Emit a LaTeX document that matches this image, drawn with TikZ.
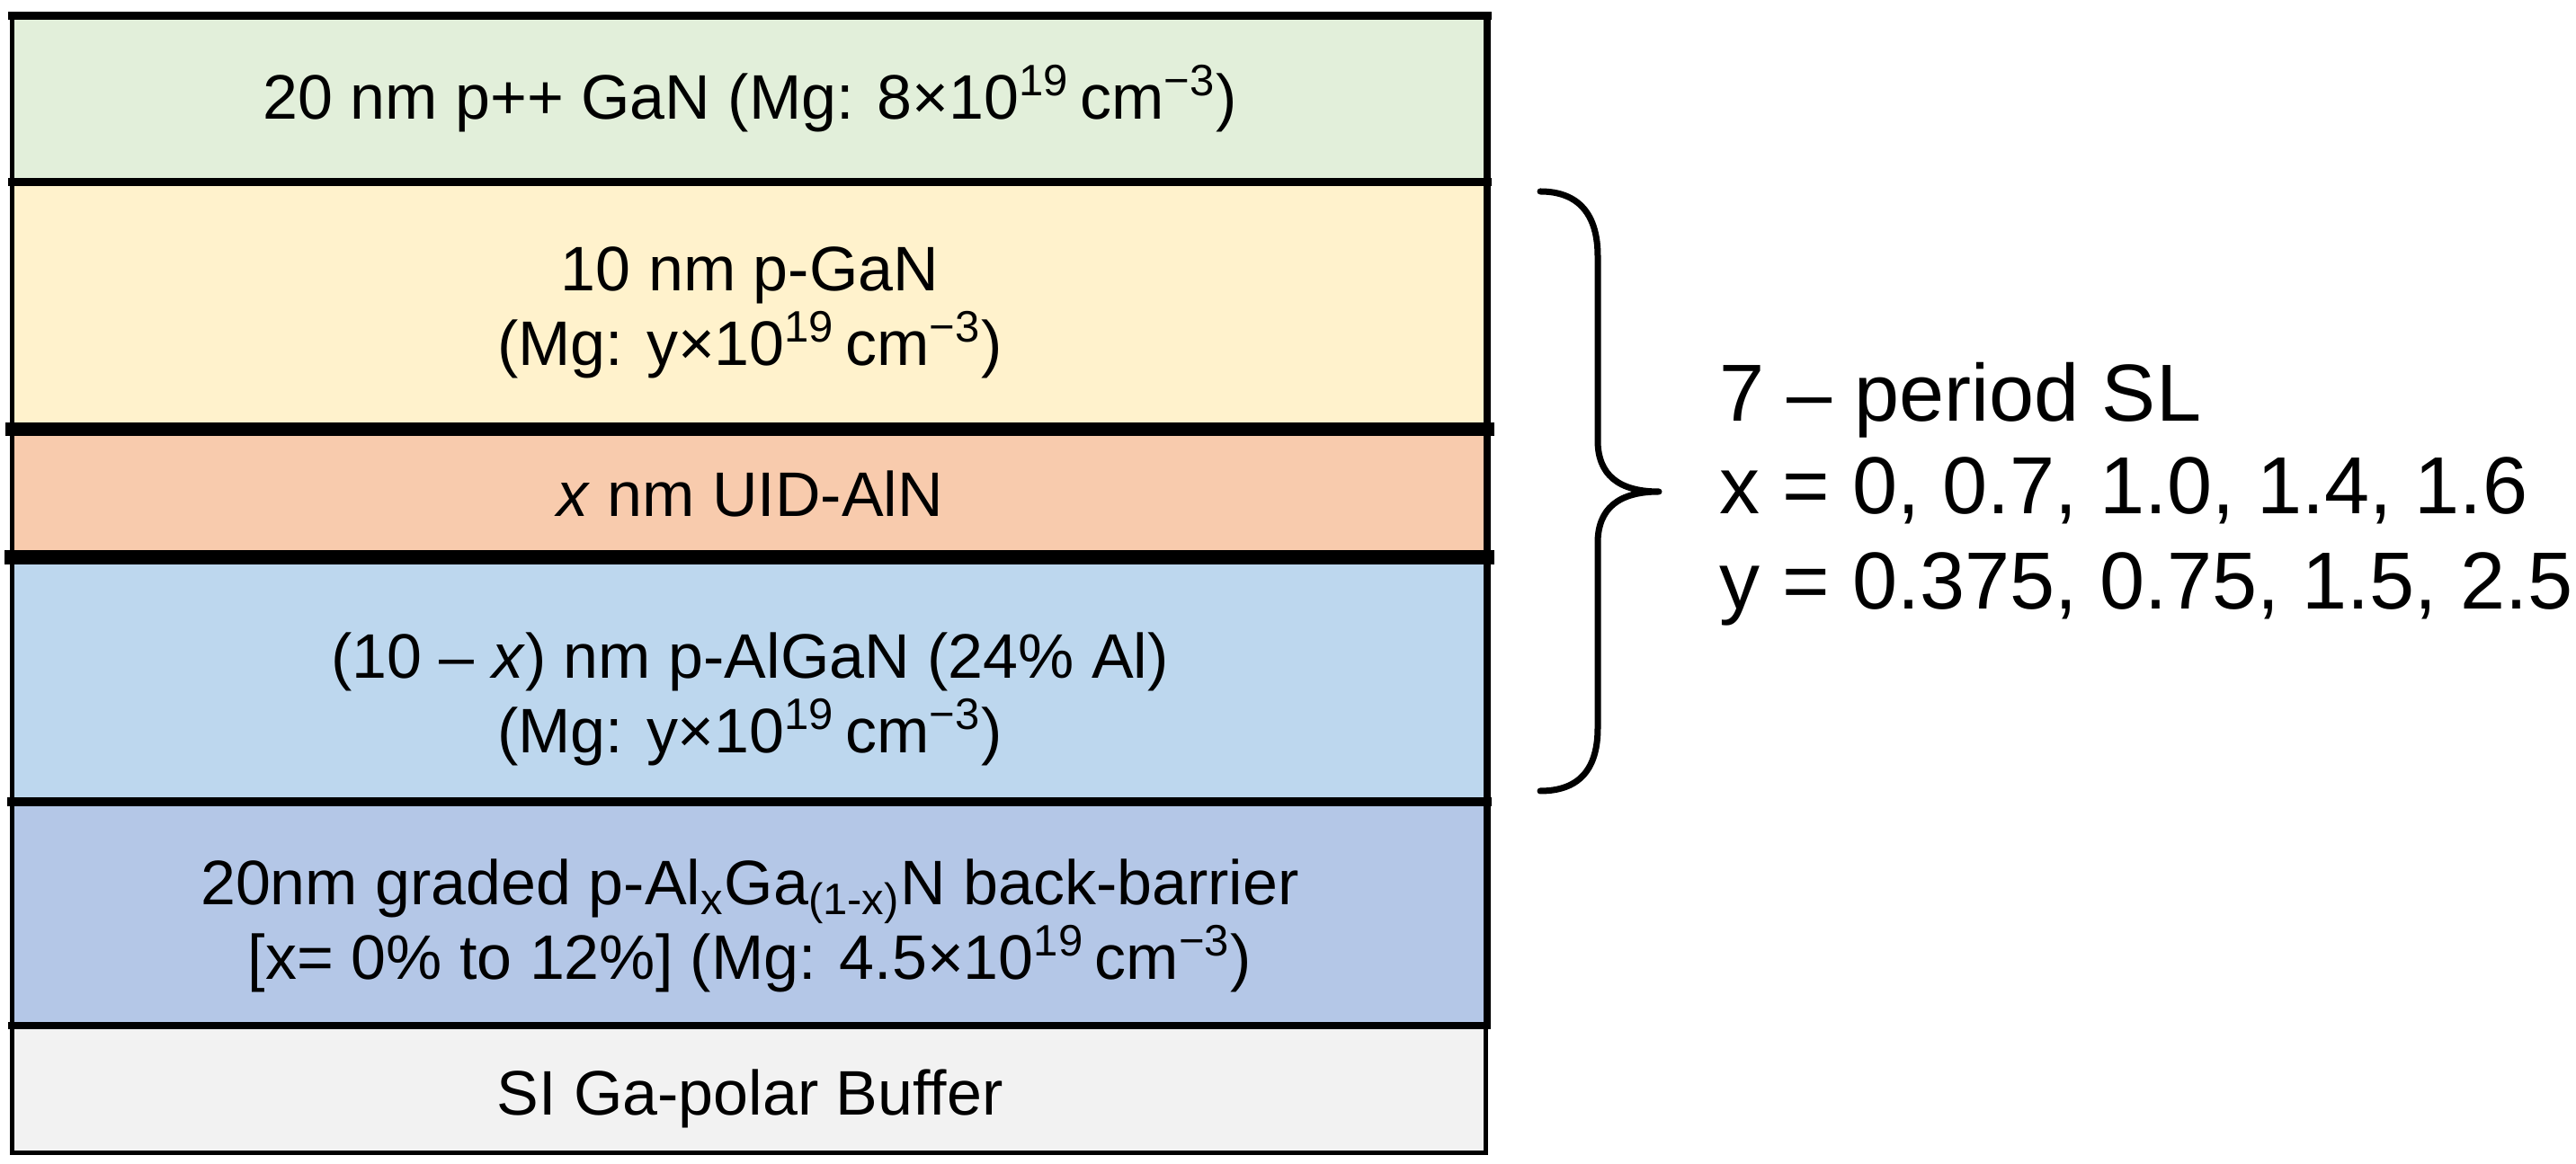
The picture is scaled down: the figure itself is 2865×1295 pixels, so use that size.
\documentclass[tikz,border=0pt]{standalone}
\usepackage{fontspec}
\setmainfont{Liberation Sans}
\definecolor{cGreen}{HTML}{E2EFDA}
\definecolor{cYellow}{HTML}{FFF2CC}
\definecolor{cOrange}{HTML}{F8CBAD}
\definecolor{cBlue}{HTML}{BDD7EE}
\definecolor{cDarkBlue}{HTML}{B4C7E7}
\definecolor{cGray}{HTML}{F2F2F2}
\tikzset{
  layertext/.style={align=center, inner sep=0pt, font=\fontsize{19.9}{23.6}\selectfont},
  sidetext/.style={anchor=base west, inner sep=0pt, font=\fontsize{25.6}{29}\selectfont},
  rule/.style={draw=black, line cap=rect},
  bracestyle/.style={draw=black, line width=0.07cm, line cap=round, line join=round}
}
\newcommand{\emN}{\textsuperscript{19}\,cm\textsuperscript{\textminus3}}
\begin{document}
\begin{tikzpicture}[x=0.01cm,y=-0.01cm]
\useasboundingbox (0,0) rectangle (2865,1295);
% layer fills
\fill[cGreen]    (13.5,17.5)  rectangle (1654,202.5);
\fill[cYellow]   (13.5,202.5) rectangle (1654,477.5);
\fill[cOrange]   (13.5,477.5) rectangle (1654,620);
\fill[cBlue]     (13.5,620)   rectangle (1654,892);
\fill[cDarkBlue] (13.5,892)   rectangle (1654,1141);
\fill[cGray]     (13.5,1141)  rectangle (1652.5,1282.5);
% rules
\draw[rule, line width=0.09cm] (13.5,17.5) -- (1654,17.5);
\draw[rule, line width=0.09cm] (13.5,202.5) -- (1654,202.5);
\draw[rule, line width=0.15cm] (13.5,477.5) -- (1654,477.5);
\draw[rule, line width=0.16cm] (13.5,620) -- (1654,620);
\draw[rule, line width=0.10cm] (13.5,892) -- (1654,892);
\draw[rule, line width=0.08cm] (13.5,1141) -- (1654,1141);
\draw[rule, line width=0.05cm] (13.5,1282.5) -- (1652.5,1282.5);
\draw[rule, line width=0.055cm] (13.5,17.5) -- (13.5,1282.5);
\draw[rule, line width=0.08cm] (1654,17.5) -- (1654,1141);
\draw[rule, line width=0.05cm] (1652.5,1141) -- (1652.5,1282.5);
% layer texts
\node[layertext, anchor=base] (lgreen) at (834,133)
  {20 nm p++ GaN (Mg: 8×10\emN)};
\node[layertext] (lyellow) at (834,348)
  {10 nm p-GaN\\(Mg: y×10\emN)};
\node[layertext, anchor=base] (lorange) at (834,575)
  {\textit{x} nm UID-AlN};
\node[layertext] (lblue) at (834,778)
  {(10 – \textit{x}) nm p-AlGaN (24\% Al)\\(Mg: y×10\emN)};
\node[layertext] (ldarkblue) at (834,1030)
  {20nm graded p-Al\textsubscript{x}Ga\textsubscript{(1-x)}N back-barrier\\{}[x= 0\% to 12\%] (Mg: 4.5×10\emN)};
\node[layertext, anchor=base] (lgray) at (834,1241)
  {SI Ga-polar Buffer};
% brace
\draw[bracestyle] (1713,213) .. controls (1757,213) and (1777,240) .. (1777,285)
  -- (1777,490) .. controls (1777,528) and (1800,547) .. (1845,547)
  .. controls (1800,547) and (1777,566) .. (1777,604)
  -- (1777,810) .. controls (1777,855) and (1757,880) .. (1713,880);
% side text
\node[sidetext] (sl1) at (1912,469) {7 – period SL};
\node[sidetext] (sl2) at (1912,572) {x = 0, 0.7, 1.0, 1.4, 1.6};
\node[sidetext] (sl3) at (1912,678) {y = 0.375, 0.75, 1.5, 2.5};
\end{tikzpicture}
\end{document}
